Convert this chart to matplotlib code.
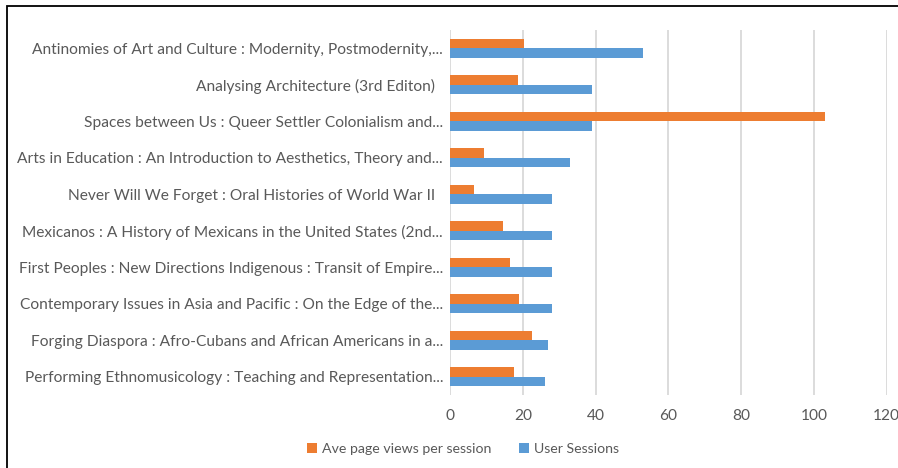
import matplotlib
matplotlib.use('Agg')
import numpy as np
import matplotlib.pyplot as plt
from matplotlib.patches import Rectangle

# book titles, top to bottom as shown
titles = [
    'Antinomies of Art and Culture : Modernity, Postmodernity,...',
    'Analysing Architecture (3rd Editon)  ',
    'Spaces between Us : Queer Settler Colonialism and...',
    'Arts in Education : An Introduction to Aesthetics, Theory and...',
    'Never Will We Forget : Oral Histories of World War II  ',
    'Mexicanos : A History of Mexicans in the United States (2nd...',
    'First Peoples : New Directions Indigenous : Transit of Empire...',
    'Contemporary Issues in Asia and Pacific : On the Edge of the...',
    'Forging Diaspora : Afro-Cubans and African Americans in a...',
    'Performing Ethnomusicology : Teaching and Representation...',
]
page_views = [20.4, 18.6, 103.1, 9.4, 6.6, 14.6, 16.5, 19.0, 22.5, 17.5]
sessions = [53, 39, 39, 33, 28, 28, 28, 28, 27, 26]
x_ticks = [0, 20, 40, 60, 80, 100, 120]

plt.rcParams['font.family'] = ['Lato', 'DejaVu Sans']
text_col = '#595959'
orange = '#ED7D31'
blue = '#5B9BD5'

fig = plt.figure(figsize=(8.98, 4.68), dpi=100)
ax = fig.add_axes([450 / 898, 1 - 395 / 468, 436.7 / 898, 365 / 468])

y = np.arange(len(titles))
h = 0.26
ax.barh(y - h / 2, page_views, height=h, color=orange,
        label='Ave page views per session', zorder=3)
ax.barh(y + h / 2, sessions, height=h, color=blue,
        label='User Sessions', zorder=3)

ax.set_xlim(0, 120)
ax.set_ylim(len(titles) - 0.5, -0.5)
ax.set_xticks(x_ticks)
ax.set_yticks(y)
ax.set_yticklabels(titles)
ax.tick_params(axis='y', length=0, colors=text_col, labelsize=11.2, pad=5)
ax.tick_params(axis='x', length=0, colors=text_col, labelsize=11.2, pad=10)
ax.grid(axis='x', color='#d9d9d9', linewidth=1.3, zorder=0)
for s in ax.spines.values():
    s.set_visible(False)

leg = fig.legend(loc='center', bbox_to_anchor=(463 / 898, 1 - 449 / 468),
                 ncol=2, frameon=False, fontsize=10.2, handlelength=0.7,
                 handleheight=0.7, handletextpad=0.3, columnspacing=2.0)
for t in leg.get_texts():
    t.set_color(text_col)

# chart border (left and top only visible, rest cropped)
fig.patches.append(Rectangle((7 / 898, -0.1), 1.2, 1 - 6 / 468 + 0.1,
                             transform=fig.transFigure, fill=False,
                             edgecolor='black', linewidth=1.3))

fig.savefig('out.png', dpi=100)
plt.close(fig)
